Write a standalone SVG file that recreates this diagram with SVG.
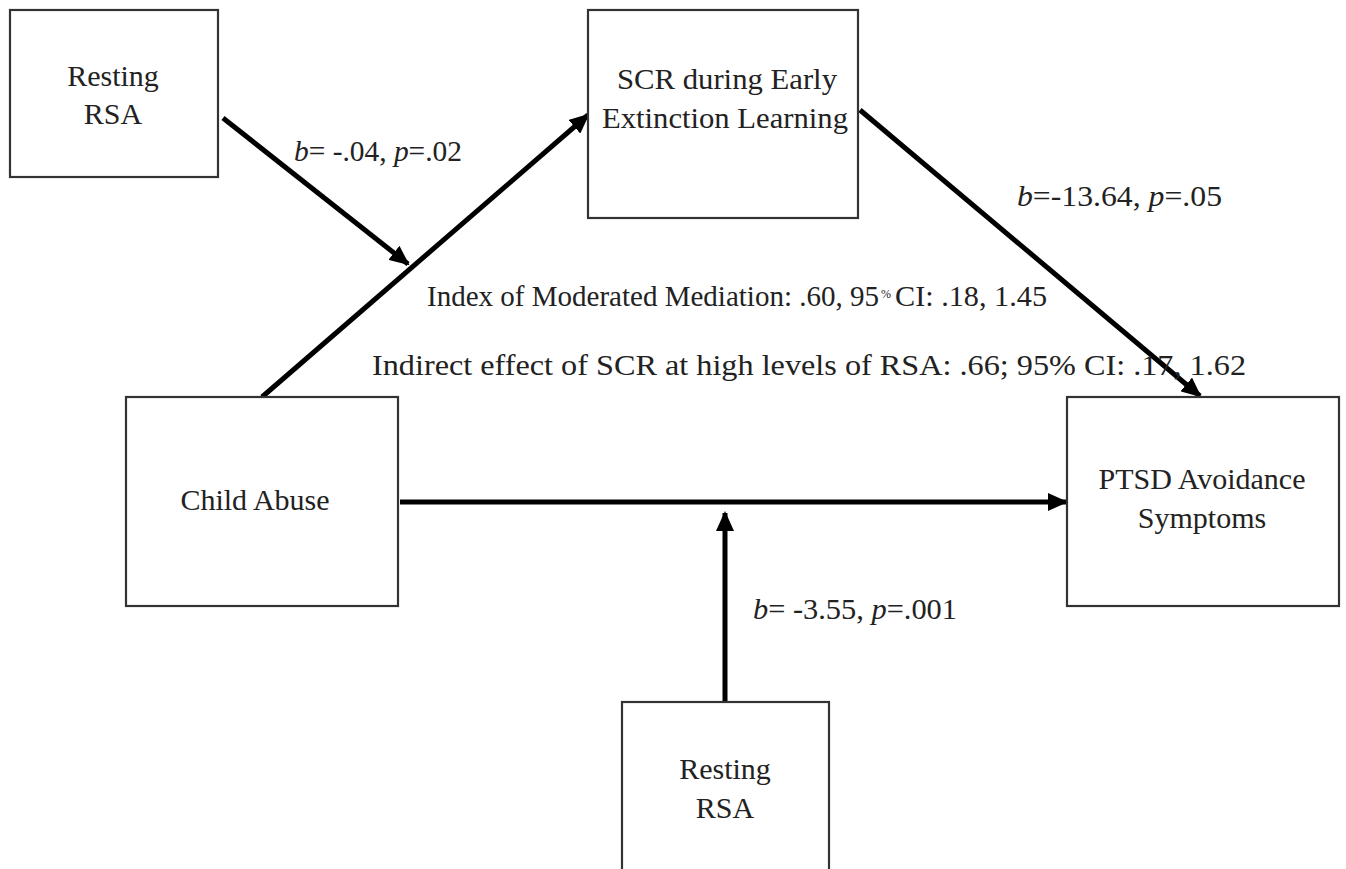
<svg xmlns="http://www.w3.org/2000/svg" width="1346" height="869" viewBox="0 0 1346 869">
<style>
.box{fill:#fff;stroke:#333;stroke-width:2.2}
.t{font-family:"Liberation Serif","Times New Roman",serif;font-size:30px;fill:#222;text-anchor:middle}
.lbl{font-family:"Liberation Serif","Times New Roman",serif;font-size:29px;fill:#222}
.sup{font-family:"Liberation Serif","Times New Roman",serif;font-size:12px;fill:#222}
.i{font-style:italic}
.c{stroke:#000;stroke-width:5;fill:none;marker-end:url(#ah)}
</style>
<defs>
<marker id="ah" viewBox="0 0 4 3.6" refX="3.6" refY="1.8" markerWidth="4" markerHeight="3.6" orient="auto" markerUnits="strokeWidth">
<path d="M0,0 L4,1.8 L0,3.6 z" fill="#000"/>
</marker>
</defs>
<rect width="1346" height="869" fill="#fff"/>
<g id="connectors">
<line class="c" x1="223" y1="118" x2="408" y2="264"/>
<line class="c" x1="262" y1="397" x2="588" y2="115"/>
<line class="c" x1="860" y1="110" x2="1200" y2="396"/>
<line class="c" x1="400" y1="502" x2="1066" y2="502"/>
<line class="c" x1="725" y1="702" x2="725" y2="513"/>
</g>
<g id="node-resting-rsa-top">
<rect class="box" x="10" y="10" width="208" height="167"/>
<text class="t" x="113" y="86">Resting</text>
<text class="t" x="113" y="124">RSA</text>
</g>
<g id="node-scr">
<rect class="box" x="588" y="10" width="270" height="208"/>
<text class="t" x="727" y="89" textLength="220" lengthAdjust="spacingAndGlyphs">SCR during Early</text>
<text class="t" x="725" y="128" textLength="246" lengthAdjust="spacingAndGlyphs">Extinction  Learning</text>
</g>
<g id="node-child-abuse">
<rect class="box" x="126" y="397" width="272" height="209"/>
<text class="t" x="255" y="510">Child Abuse</text>
</g>
<g id="node-ptsd">
<rect class="box" x="1067" y="397" width="272" height="209"/>
<text class="t" x="1202" y="489">PTSD Avoidance</text>
<text class="t" x="1202" y="528">Symptoms</text>
</g>
<g id="node-resting-rsa-bottom">
<rect class="box" x="622" y="702" width="207" height="180"/>
<text class="t" x="725" y="779">Resting</text>
<text class="t" x="725" y="818">RSA</text>
</g>
<g id="labels">
<text class="lbl" x="294" y="161" textLength="168" lengthAdjust="spacingAndGlyphs"><tspan class="i">b</tspan>= -.04, <tspan class="i">p</tspan>=.02</text>
<text class="lbl" x="1017" y="206" textLength="205" lengthAdjust="spacingAndGlyphs"><tspan class="i">b</tspan>=-13.64, <tspan class="i">p</tspan>=.05</text>
<text class="lbl" x="427" y="306" textLength="452" lengthAdjust="spacingAndGlyphs">Index of Moderated Mediation: .60, 95</text>
<text class="sup" x="881" y="298">%</text>
<text class="lbl" x="895" y="306" textLength="152" lengthAdjust="spacingAndGlyphs">CI: .18, 1.45</text>
<text class="lbl" x="372" y="375" textLength="874" lengthAdjust="spacingAndGlyphs">Indirect effect of SCR at high levels of RSA: .66; 95% CI: .17, 1.62</text>
<text class="lbl" x="753" y="619" textLength="204" lengthAdjust="spacingAndGlyphs"><tspan class="i">b</tspan>= -3.55, <tspan class="i">p</tspan>=.001</text>
</g>
</svg>
